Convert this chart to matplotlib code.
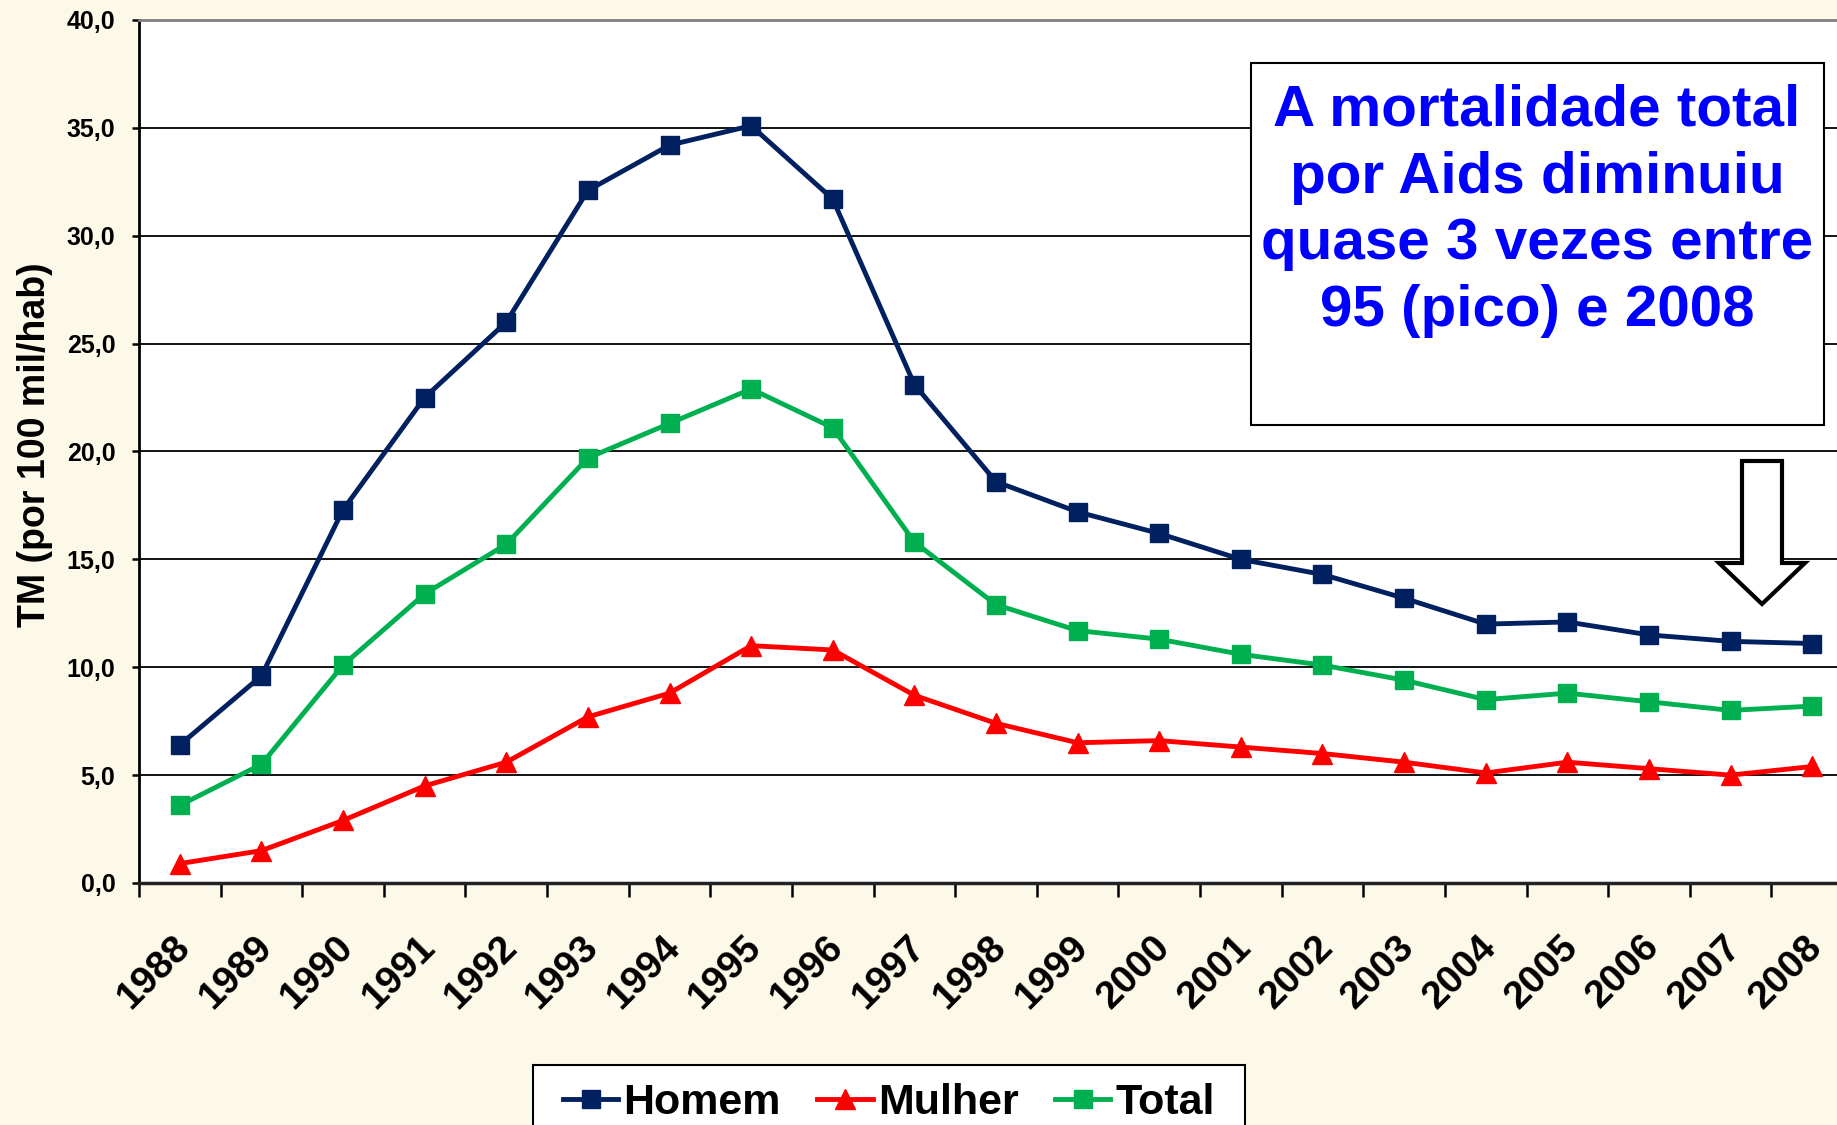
import matplotlib
matplotlib.use('Agg')
import matplotlib.pyplot as plt
import numpy as np
from matplotlib.patches import Rectangle, Polygon
from matplotlib.ticker import FuncFormatter
from matplotlib.transforms import ScaledTranslation

years = ['1988', '1989', '1990', '1991', '1992', '1993', '1994', '1995', '1996', '1997', '1998',
         '1999', '2000', '2001', '2002', '2003', '2004', '2005', '2006', '2007', '2008']
homem = [6.4, 9.6, 17.3, 22.5, 26.0, 32.1, 34.2, 35.1, 31.7, 23.1, 18.6,
         17.2, 16.2, 15.0, 14.3, 13.2, 12.0, 12.1, 11.5, 11.2, 11.1]
mulher = [0.9, 1.5, 2.9, 4.5, 5.6, 7.7, 8.8, 11.0, 10.8, 8.7, 7.4,
          6.5, 6.6, 6.3, 6.0, 5.6, 5.1, 5.6, 5.3, 5.0, 5.4]
total = [3.6, 5.5, 10.1, 13.4, 15.7, 19.7, 21.3, 22.9, 21.1, 15.8, 12.9,
         11.7, 11.3, 10.6, 10.1, 9.4, 8.5, 8.8, 8.4, 8.0, 8.2]

W, H = 1837, 1125
bg = '#FDF9E9'
plt.rcParams['font.family'] = ['Liberation Sans', 'DejaVu Sans']
plt.rcParams['font.weight'] = 'bold'

fig = plt.figure(figsize=(W / 100, H / 100), dpi=100, facecolor=bg)
# axes runs past the right edge of the picture, as in the original
ax = fig.add_axes([139 / W, 1 - 883 / H, (1853 - 139) / W, 863 / H])
ax.set_facecolor('white')

x = np.arange(len(years))
ax.plot(x, homem, color='#002060', marker='s', ms=13, lw=3.5, label='Homem', clip_on=False, zorder=3)
ax.plot(x, mulher, color='#FF0000', marker='^', ms=14, lw=3.5, label='Mulher', clip_on=False, zorder=3)
ax.plot(x, total, color='#00B050', marker='s', ms=13, lw=3.5, label='Total', clip_on=False, zorder=3)

ax.set_xlim(-0.5, len(years) - 0.5)
ax.set_ylim(0, 40)
ax.set_yticks(np.arange(0, 41, 5))
ax.yaxis.set_major_formatter(FuncFormatter(lambda v, p: f'{v:.1f}'.replace('.', ',')))
ax.yaxis.grid(True, color='black', lw=1.3)
ax.set_axisbelow(True)

ax.set_xticks(x)
ax.set_xticklabels(years, rotation=45, ha='right', va='center', rotation_mode='anchor',
                   fontsize=28, fontweight='bold')
ax.set_xticks(np.arange(-0.5, len(years), 1), minor=True)
ax.tick_params(axis='x', which='major', length=0, pad=42)
ax.tick_params(axis='x', which='minor', length=10, width=1.8, direction='out')
ax.tick_params(axis='y', length=5, width=1.8, pad=12, labelsize=18)
for lab in ax.get_yticklabels():
    lab.set_fontweight('bold')
for lab in ax.get_xticklabels():
    lab.set_transform(lab.get_transform() + ScaledTranslation(0.05, 0, fig.dpi_scale_trans))

ax.spines['left'].set_linewidth(2)
ax.spines['bottom'].set_linewidth(2.5)
ax.spines['bottom'].set_color('#222222')
ax.spines['top'].set_color('#808080')
ax.spines['top'].set_linewidth(2)

ax.set_ylabel('TM (por 100 mil/hab)', fontsize=27, fontweight='bold', va='center')
ax.yaxis.set_label_coords((35 - 139) / 1714, (883 - 445) / 863)

# legend: box drawn by hand, it runs off the bottom edge
leg_box = Rectangle((533 / W, 1 - 1150 / H), (1245 - 533) / W, (1150 - 1065) / H,
                    transform=fig.transFigure, facecolor='white', edgecolor='black', lw=1.5, zorder=4)
fig.add_artist(leg_box)
leg = fig.legend(loc='center', bbox_to_anchor=(889 / W, 1 - 1103 / H), ncol=3, frameon=False,
                 prop={'weight': 'bold', 'size': 31},
                 handlelength=1.28, handletextpad=0.12, columnspacing=0.85, borderpad=0)
leg.set_zorder(6)

# text box
box = Rectangle((1251 / W, 1 - 425 / H), (1824 - 1251) / W, (425 - 63) / H, transform=fig.transFigure,
                facecolor='white', edgecolor='black', lw=1.5, zorder=5)
fig.add_artist(box)
fig.text(1537 / W, 1 - 84 / H, 'A mortalidade total\npor Aids diminuiu\nquase 3 vezes entre\n95 (pico) e 2008',
         ha='center', va='top', ma='center', fontsize=42, fontweight='bold', color='#0000FF',
         linespacing=1.3, zorder=6)

# block arrow
pts = [(1742, 461), (1782, 461), (1782, 563), (1805, 563), (1762, 604), (1719, 563), (1742, 563)]
arrow = Polygon([(px / W, 1 - py / H) for px, py in pts], closed=True, transform=fig.transFigure,
                facecolor='white', edgecolor='black', lw=3, joinstyle='miter', zorder=5)
fig.add_artist(arrow)

fig.savefig('out.png', dpi=100, facecolor=bg)
